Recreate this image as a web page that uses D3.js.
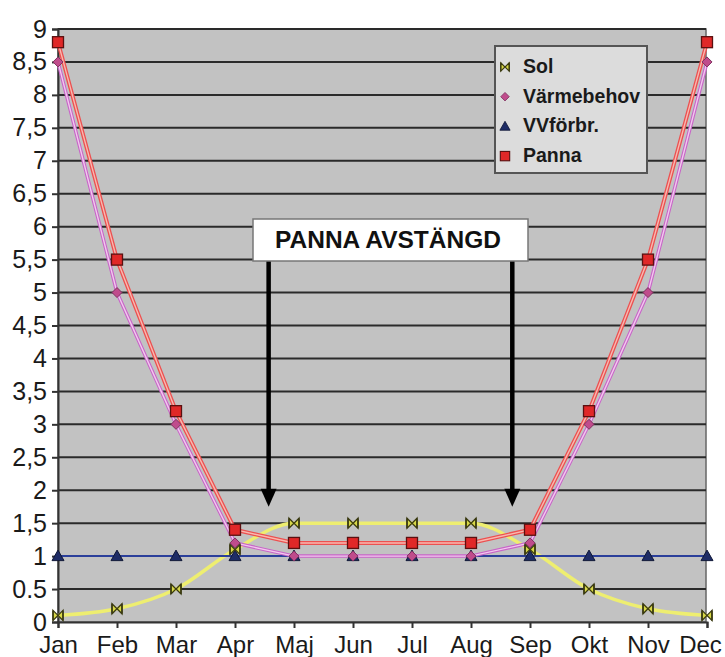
<!DOCTYPE html>
<html>
<head>
<meta charset="utf-8">
<script src="https://cdn.jsdelivr.net/npm/d3@7"></script>
<style>
  body { margin: 0; background: #fff; }
  text { font-family: "Liberation Sans", Arial, sans-serif; }
</style>
</head>
<body>
<div class="chart"></div>
<script>
var months = ['Jan', 'Feb', 'Mar', 'Apr', 'Maj', 'Jun', 'Jul', 'Aug', 'Sep', 'Okt', 'Nov', 'Dec'];
var sol = [0.1, 0.2, 0.5, 1.1, 1.5, 1.5, 1.5, 1.5, 1.1, 0.5, 0.2, 0.1];
var varmebehov = [8.5, 5, 3, 1.2, 1, 1, 1, 1, 1.2, 3, 5, 8.5];
var vvforbr = [1, 1, 1, 1, 1, 1, 1, 1, 1, 1, 1, 1];
var panna = [8.8, 5.5, 3.2, 1.4, 1.2, 1.2, 1.2, 1.2, 1.4, 3.2, 5.5, 8.8];
var yTicks = [0, 0.5, 1, 1.5, 2, 2.5, 3, 3.5, 4, 4.5, 5, 5.5, 6, 6.5, 7, 7.5, 8, 8.5, 9];
var yTickLabels = ['0', '0.5', '1', '1,5', '2', '2,5', '3', '3,5', '4', '4,5', '5', '5,5', '6', '6,5', '7', '7,5', '8', '8,5', '9'];
var seriesNames = ['Sol', 'Värmebehov', 'VVförbr.', 'Panna'];
var note = 'PANNA AVSTÄNGD';

var w = 725, h = 657;
// note: "top" is taken by window.top, so use plot* names
var plotL = 58, plotR = 707, plotT = 29, plotB = 622;

var svg = d3.select('.chart').append('svg')
	.attr('width', w)
	.attr('height', h);

var x = d3.scalePoint().domain(months).range([plotL, plotR]);
var y = d3.scaleLinear().domain([0, 9]).range([plotB, plotT]);
var step = x.step();

// plot background
svg.append('rect')
	.attr('x', plotL).attr('y', plotT)
	.attr('width', plotR - 1 - plotL).attr('height', plotB - plotT)
	.attr('fill', '#c2c2c2')
	.attr('stroke', '#666').attr('stroke-width', 1.5);

// gridlines
svg.append('g').selectAll('line')
	.data(yTicks.slice(1))
	.enter().append('line')
	.attr('x1', plotL).attr('x2', plotR - 1)
	.attr('y1', function(d){ return y(d); })
	.attr('y2', function(d){ return y(d); })
	.attr('stroke', '#2a2a2a')
	.attr('stroke-width', 2);

// axes
var yAxis = d3.axisLeft(y).tickValues(yTicks)
	.tickFormat(function(d, i){ return yTickLabels[i]; })
	.tickSize(6).tickPadding(5);
var gy = svg.append('g').attr('transform', 'translate(' + plotL + ',0)').call(yAxis);
gy.select('.domain').attr('stroke', '#333').attr('stroke-width', 2);
gy.selectAll('.tick line').attr('stroke', '#333').attr('stroke-width', 2);
gy.selectAll('text').attr('font-size', '25px').attr('fill', '#1a1a1a')
	.attr('font-family', '"Liberation Sans", Arial, sans-serif');

var xAxis = d3.axisBottom(x).tickSize(6).tickPadding(8);
var gx = svg.append('g').attr('transform', 'translate(0,' + plotB + ')').call(xAxis);
gx.select('.domain').attr('stroke', '#333').attr('stroke-width', 2);
gx.selectAll('.tick line').attr('stroke', '#333').attr('stroke-width', 2);
gx.selectAll('text').attr('font-size', '24px').attr('fill', '#1a1a1a')
	.attr('font-family', '"Liberation Sans", Arial, sans-serif');
// last label sits against the edge, nudge it in like the original
gx.selectAll('text').filter(function(d){ return d === 'Dec'; }).attr('dx', -7);

// lines
var straight = d3.line()
	.x(function(d, i){ return x(months[i]); })
	.y(function(d){ return y(d); });
var smooth = d3.line()
	.x(function(d, i){ return x(months[i]); })
	.y(function(d){ return y(d); })
	.curve(d3.curveMonotoneX);

function drawLine(data, gen, outer, outerW, inner, innerW) {
	svg.append('path').datum(data).attr('d', gen)
		.attr('fill', 'none').attr('stroke', outer).attr('stroke-width', outerW);
	if (inner) {
		svg.append('path').datum(data).attr('d', gen)
			.attr('fill', 'none').attr('stroke', inner).attr('stroke-width', innerW);
	}
}

drawLine(sol, smooth, '#eeee70', 3.5);
drawLine(vvforbr, straight, '#2b3f9a', 2);
drawLine(varmebehov, straight, '#c864c8', 3.5, '#f2c8ee', 1.4);
drawLine(panna, straight, '#ec5050', 4, '#f8b8b0', 1.4);

// marker shapes
function bowtie(g) {
	g.append('path').attr('d', 'M-5,-5 L0,0 L-5,5 Z M5,-5 L0,0 L5,5 Z')
		.attr('fill', '#d8d848').attr('stroke', '#3a3a10').attr('stroke-width', 1.3);
	g.append('line').attr('x1', -5).attr('x2', -5).attr('y1', -5).attr('y2', 5)
		.attr('stroke', '#3a3a10').attr('stroke-width', 1.5);
	g.append('line').attr('x1', 5).attr('x2', 5).attr('y1', -5).attr('y2', 5)
		.attr('stroke', '#3a3a10').attr('stroke-width', 1.5);
}
function diamond(g) {
	g.append('path').attr('d', 'M0,-5 L5,0 L0,5 L-5,0 Z')
		.attr('fill', '#c04c8c').attr('stroke', '#803060').attr('stroke-width', 1);
}
function triangle(g) {
	g.append('path').attr('d', 'M0,-6 L6,4.5 L-6,4.5 Z')
		.attr('fill', '#1e2c66').attr('stroke', '#101838').attr('stroke-width', 1);
}
function square(g) {
	g.append('rect').attr('x', -5.5).attr('y', -5.5).attr('width', 11).attr('height', 11)
		.attr('fill', '#e02828').attr('stroke', '#5a1010').attr('stroke-width', 1.3);
}

function drawMarkers(data, shape) {
	svg.append('g').selectAll('g')
		.data(data)
		.enter().append('g')
		.attr('transform', function(d, i){ return 'translate(' + x(months[i]) + ',' + y(d) + ')'; })
		.each(function(){ shape(d3.select(this)); });
}

drawMarkers(vvforbr, triangle);
drawMarkers(sol, bowtie);
drawMarkers(varmebehov, diamond);
drawMarkers(panna, square);

// legend
var legend = svg.append('g').attr('transform', 'translate(495,46)');
legend.append('rect').attr('width', 152).attr('height', 127)
	.attr('fill', '#dcdcdc').attr('stroke', '#555').attr('stroke-width', 2);
var shapes = [bowtie, diamond, triangle, square];
seriesNames.forEach(function(name, i){
	var base = 27 + i * 29.7;
	var mg = legend.append('g').attr('transform', 'translate(10,' + (base - 6) + ') scale(0.85)');
	shapes[i](mg);
	legend.append('text').attr('x', 28).attr('y', base)
		.attr('font-size', '19.5px').attr('font-weight', 'bold').attr('fill', '#1a1a1a')
		.text(name);
});

// annotation box and arrows
var ax1 = x('Apr') + step * 0.57, ax2 = x('Sep') - step * 0.3;
var tipY = y(1.75);
[ax1, ax2].forEach(function(ax){
	svg.append('line').attr('x1', ax).attr('x2', ax)
		.attr('y1', 261).attr('y2', tipY - 14)
		.attr('stroke', '#000').attr('stroke-width', 4.5);
	svg.append('path')
		.attr('d', 'M' + (ax - 8) + ',' + (tipY - 18) + ' L' + (ax + 8) + ',' + (tipY - 18) + ' L' + ax + ',' + tipY + ' Z')
		.attr('fill', '#000');
});

svg.append('rect').attr('x', 253).attr('y', 219).attr('width', 275).attr('height', 42)
	.attr('fill', '#fff').attr('stroke', '#777').attr('stroke-width', 1.5);
svg.append('text').attr('x', 388).attr('y', 248)
	.attr('text-anchor', 'middle').attr('font-size', '24.5px').attr('font-weight', 'bold')
	.attr('fill', '#111').text(note);
</script>
</body>
</html>
